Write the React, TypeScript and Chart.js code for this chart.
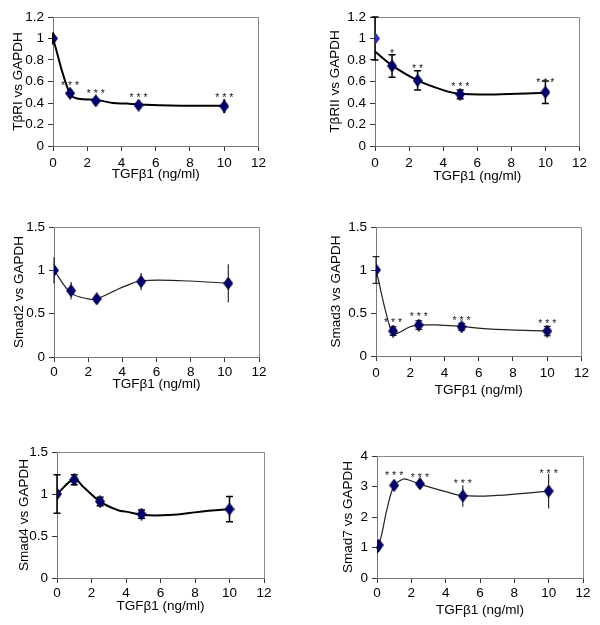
import React, { useEffect, useRef } from "react";
import { Chart, registerables } from "chart.js";

Chart.register(...registerables);

const FONT = "'Liberation Sans', Arial, Helvetica, sans-serif";
const FS = 13.5;
const X_TITLE = "TGFβ1 (ng/ml)";
const xTickValues = [0, 2, 4, 6, 8, 10, 12];

// ---- Panel 1: TβRI ----
const p1Title = "TβRI vs GAPDH";
const p1X = [0, 1, 2.5, 5, 10];
const p1Y = [1.0, 0.49, 0.42, 0.38, 0.37];
const p1Err = [0.055, 0.04, 0.035, 0.04, 0.065];
const p1CurveX = [0, 1, 1.5, 2.5, 3.5, 4.3, 5, 7.5, 10];
const p1CurveY = [1.0, 0.48, 0.44, 0.43, 0.4, 0.395, 0.385, 0.375, 0.375];
const p1StarX = [1, 2.5, 5, 10];
const p1StarY = [0.59, 0.51, 0.47, 0.47];
const p1StarText = ["***", "***", "***", "***"];
const p1YTicks = [0, 0.2, 0.4, 0.6, 0.8, 1, 1.2];

// ---- Panel 2: TβRII ----
const p2Title = "TβRII vs GAPDH";
const p2X = [0, 1, 2.5, 5, 10];
const p2Y = [1.0, 0.745, 0.61, 0.48, 0.5];
const p2Err = [0.2, 0.105, 0.09, 0.04, 0.105];
const p2CurveX = [0, 1, 2.5, 4, 5, 7, 10];
const p2CurveY = [0.88, 0.75, 0.61, 0.52, 0.485, 0.48, 0.495];
const p2StarX = [1, 2.5, 5, 10];
const p2StarY = [0.88, 0.74, 0.58, 0.61];
const p2StarText = ["*", "**", "***", "***"];
const p2YTicks = [0, 0.2, 0.4, 0.6, 0.8, 1, 1.2];

// ---- Panel 3: Smad2 ----
const p3Title = "Smad2 vs GAPDH";
const p3X = [0, 1, 2.5, 5.1, 10.2];
const p3Y = [1.0, 0.765, 0.67, 0.87, 0.85];
const p3Err = [0.15, 0.1, 0.06, 0.1, 0.22];
const p3CurveX = [0, 1, 2, 2.5, 3.5, 4.2, 5.1, 7.5, 10.2];
const p3CurveY = [1.0, 0.74, 0.67, 0.67, 0.76, 0.82, 0.88, 0.88, 0.85];
const p3StarX: number[] = [];
const p3StarY: number[] = [];
const p3StarText: string[] = [];
const p3YTicks = [0, 0.5, 1, 1.5];

// ---- Panel 4: Smad3 ----
const p4Title = "Smad3 vs GAPDH";
const p4X = [0, 1, 2.5, 5, 10];
const p4Y = [1.0, 0.29, 0.36, 0.34, 0.29];
const p4Err = [0.155, 0.05, 0.05, 0.04, 0.055];
const p4CurveX = [0, 0.9, 1.2, 2, 2.5, 3.7, 5, 6.5, 10];
const p4CurveY = [1.0, 0.28, 0.26, 0.34, 0.36, 0.36, 0.345, 0.315, 0.29];
const p4StarX = [1, 2.5, 5, 10];
const p4StarY = [0.42, 0.485, 0.445, 0.41];
const p4StarText = ["***", "***", "***", "***"];
const p4YTicks = [0, 0.5, 1, 1.5];

// ---- Panel 5: Smad4 ----
const p5Title = "Smad4 vs GAPDH";
const p5X = [0, 1, 2.5, 4.9, 10];
const p5Y = [1.0, 1.17, 0.91, 0.76, 0.82];
const p5Err = [0.23, 0.06, 0.05, 0.05, 0.15];
const p5CurveX = [0, 1, 1.5, 2.5, 3.5, 4, 5, 6.5, 8.3, 10];
const p5CurveY = [1.0, 1.175, 1.09, 0.91, 0.81, 0.79, 0.75, 0.75, 0.79, 0.82];
const p5StarX: number[] = [];
const p5StarY: number[] = [];
const p5StarText: string[] = [];
const p5YTicks = [0, 0.5, 1, 1.5];

// ---- Panel 6: Smad7 ----
const p6Title = "Smad7 vs GAPDH";
const p6X = [0, 0.1, 1, 2.5, 5, 10];
const p6Y = [1.0, 1.08, 3.04, 3.09, 2.69, 2.85];
const p6Err = [0.05, 0.05, 0.17, 0.15, 0.35, 0.57];
const p6CurveX = [0, 0.1, 0.3, 0.6, 1, 1.5, 1.8, 2.5, 4, 5, 7, 10];
const p6CurveY = [1.0, 1.08, 1.5, 2.3, 3.02, 3.24, 3.22, 3.08, 2.83, 2.7, 2.71, 2.85];
const p6StarX = [1, 2.5, 5, 10];
const p6StarY = [3.45, 3.38, 3.19, 3.52];
const p6StarText = ["***", "***", "***", "***"];
const p6YTicks = [0, 1, 2, 3, 4];

type Spec = {
  title: string;
  x: number[];
  y: number[];
  err: number[];
  cx: number[];
  cy: number[];
  sx: number[];
  sy: number[];
  st: string[];
  yTicks: number[];
  firstColor?: string;
  l: number; t: number; w: number; h: number;
  yW: number; yTitlePad: number; xH: number; xTickPad: number;
  padTop: number; padRight: number;
  lineW: number; lineC: string; errW: number; caps: boolean;
};

const panels: Spec[] = [
  { title: p1Title, x: p1X, y: p1Y, err: p1Err, cx: p1CurveX, cy: p1CurveY, sx: p1StarX, sy: p1StarY, st: p1StarText, yTicks: p1YTicks,
    l: 0, t: 0, w: 270, h: 184, yW: 53, yTitlePad: 10, xH: 38, xTickPad: 4, padTop: 17, padRight: 11,
    lineW: 2, lineC: "#000", errW: 2, caps: false },
  { title: p2Title, x: p2X, y: p2Y, err: p2Err, cx: p2CurveX, cy: p2CurveY, sx: p2StarX, sy: p2StarY, st: p2StarText, yTicks: p2YTicks,
    firstColor: "#2a2ad0",
    l: 300, t: 0, w: 291, h: 186, yW: 75, yTitlePad: 27, xH: 40, xTickPad: 4, padTop: 17, padRight: 11,
    lineW: 2, lineC: "#000", errW: 1.5, caps: true },
  { title: p3Title, x: p3X, y: p3Y, err: p3Err, cx: p3CurveX, cy: p3CurveY, sx: p3StarX, sy: p3StarY, st: p3StarText, yTicks: p3YTicks,
    l: 0, t: 210, w: 270, h: 184, yW: 54, yTitlePad: 11, xH: 37, xTickPad: 2, padTop: 17, padRight: 11,
    lineW: 1.2, lineC: "#222", errW: 1, caps: false },
  { title: p4Title, x: p4X, y: p4Y, err: p4Err, cx: p4CurveX, cy: p4CurveY, sx: p4StarX, sy: p4StarY, st: p4StarText, yTicks: p4YTicks,
    l: 300, t: 210, w: 293, h: 190, yW: 76, yTitlePad: 28, xH: 44, xTickPad: 4, padTop: 17, padRight: 11,
    lineW: 1.2, lineC: "#222", errW: 1, caps: true },
  { title: p5Title, x: p5X, y: p5Y, err: p5Err, cx: p5CurveX, cy: p5CurveY, sx: p5StarX, sy: p5StarY, st: p5StarText, yTicks: p5YTicks,
    l: 0, t: 420, w: 275, h: 196, yW: 57, yTitlePad: 16, xH: 38, xTickPad: 2, padTop: 32, padRight: 11,
    lineW: 2, lineC: "#000", errW: 1.5, caps: true },
  { title: p6Title, x: p6X, y: p6Y, err: p6Err, cx: p6CurveX, cy: p6CurveY, sx: p6StarX, sy: p6StarY, st: p6StarText, yTicks: p6YTicks,
    l: 300, t: 420, w: 294, h: 200, yW: 77, yTitlePad: 40, xH: 42, xTickPad: 2, padTop: 36, padRight: 11,
    lineW: 1.2, lineC: "#222", errW: 1, caps: false },
];

// elongated diamond marker image
function diamond(fill: string, stroke: string): HTMLCanvasElement {
  const c = document.createElement("canvas");
  const w = 10, h = 13;
  c.width = w; c.height = h;
  const g = c.getContext("2d")!;
  g.beginPath();
  g.moveTo(w / 2, 0.5);
  g.lineTo(w - 0.5, h / 2);
  g.lineTo(w / 2, h - 0.5);
  g.lineTo(0.5, h / 2);
  g.closePath();
  g.fillStyle = fill;
  g.fill();
  g.strokeStyle = stroke;
  g.lineWidth = 1;
  g.stroke();
  return c;
}

function overlay(s: Spec) {
  return {
    id: "overlay",
    beforeDatasetsDraw(chart: any) {
      const { ctx, chartArea: a, scales } = chart;
      const xs = scales.x;
      const ys = scales.y;
      ctx.save();
      ctx.strokeStyle = "#8a8a8a";
      ctx.lineWidth = 1;
      ctx.beginPath();
      ctx.moveTo(Math.round(a.left), Math.round(a.top) + 0.5);
      ctx.lineTo(Math.round(a.right) + 0.5, Math.round(a.top) + 0.5);
      ctx.lineTo(Math.round(a.right) + 0.5, Math.round(a.bottom));
      ctx.stroke();
      ctx.strokeStyle = "#000";
      ctx.lineWidth = s.errW;
      for (let i = 0; i < s.x.length; i++) {
        const px = xs.getPixelForValue(s.x[i]);
        const top = ys.getPixelForValue(s.y[i] + s.err[i]);
        const bot = ys.getPixelForValue(s.y[i] - s.err[i]);
        ctx.beginPath();
        ctx.moveTo(px, top);
        ctx.lineTo(px, bot);
        if (s.caps) {
          ctx.moveTo(px - 3.5, top);
          ctx.lineTo(px + 3.5, top);
          ctx.moveTo(px - 3.5, bot);
          ctx.lineTo(px + 3.5, bot);
        }
        ctx.stroke();
      }
      ctx.restore();
    },
    afterDatasetsDraw(chart: any) {
      const { ctx, scales } = chart;
      ctx.save();
      ctx.fillStyle = "#222";
      ctx.font = `10.5px ${FONT}`;
      ctx.textAlign = "center";
      ctx.textBaseline = "alphabetic";
      for (let i = 0; i < s.sx.length; i++) {
        const px = scales.x.getPixelForValue(s.sx[i]);
        const py = scales.y.getPixelForValue(s.sy[i]);
        ctx.fillText(s.st[i].split("").join(" "), px, py + 6);
      }
      ctx.restore();
    },
  };
}

function buildConfig(s: Spec): any {
  const points = s.x.map((v, i) => ({ x: v, y: s.y[i] }));
  const curve = s.cx.map((v, i) => ({ x: v, y: s.cy[i] }));
  const yMax = s.yTicks[s.yTicks.length - 1];
  const navy = diamond("#000070", "#000040");
  const blue = diamond(s.firstColor || "#000070", s.firstColor || "#000040");
  return {
    type: "line",
    data: {
      datasets: [
        {
          label: "mean",
          data: points,
          showLine: false,
          pointStyle: s.x.map((_, i) => (i === 0 && s.firstColor ? blue : navy)),
          pointRadius: 6,
        },
        {
          label: "fit",
          data: curve,
          showLine: true,
          borderColor: s.lineC,
          borderWidth: s.lineW,
          tension: 0.4,
          pointRadius: 0,
          fill: false,
        },
      ],
    },
    options: {
      animation: false,
      responsive: false,
      events: [],
      layout: { padding: { left: 0, top: s.padTop, right: s.padRight, bottom: 0 } },
      plugins: { legend: { display: false }, tooltip: { enabled: false } },
      scales: {
        x: {
          type: "linear",
          min: 0,
          max: 12,
          afterBuildTicks: (sc: any) => { sc.ticks = xTickValues.map((v) => ({ value: v })); },
          afterFit: (sc: any) => { sc.height = s.xH; },
          ticks: { color: "#000", font: { family: FONT, size: FS }, padding: s.xTickPad, maxRotation: 0, callback: (v: any) => String(v) },
          grid: { display: true, drawOnChartArea: false, drawTicks: true, tickLength: 5, color: "#333" },
          border: { display: true, color: "#777", width: 1 },
          title: { display: true, text: X_TITLE, color: "#000", font: { family: FONT, size: FS }, padding: { top: 0, bottom: 2 } },
        },
        y: {
          type: "linear",
          min: 0,
          max: yMax,
          afterBuildTicks: (sc: any) => { sc.ticks = s.yTicks.map((v) => ({ value: v })); },
          afterFit: (sc: any) => { sc.width = s.yW; },
          ticks: { color: "#000", font: { family: FONT, size: FS }, padding: 4, callback: (v: any) => String(Number(Number(v).toFixed(2))) },
          grid: { display: true, drawOnChartArea: false, drawTicks: true, tickLength: 5, color: "#333" },
          border: { display: true, color: "#777", width: 1 },
          title: { display: true, text: s.title, color: "#000", font: { family: FONT, size: FS }, padding: { top: s.yTitlePad - 0.3, bottom: 0 } },
        },
      },
    },
    plugins: [overlay(s)],
  };
}

function Panel({ spec }: { spec: Spec }) {
  const ref = useRef<HTMLCanvasElement>(null);
  useEffect(() => {
    if (!ref.current) return;
    const chart = new Chart(ref.current, buildConfig(spec));
    return () => chart.destroy();
  }, [spec]);
  return (
    <canvas
      ref={ref}
      width={spec.w}
      height={spec.h}
      style={{ position: "absolute", left: spec.l, top: spec.t, width: spec.w, height: spec.h }}
    />
  );
}

export default function App() {
  return (
    <div style={{ position: "absolute", left: 0, top: 0, width: 600, height: 625, background: "#fff", overflow: "hidden" }}>
      {panels.map((p, i) => (
        <Panel key={i} spec={p} />
      ))}
    </div>
  );
}
